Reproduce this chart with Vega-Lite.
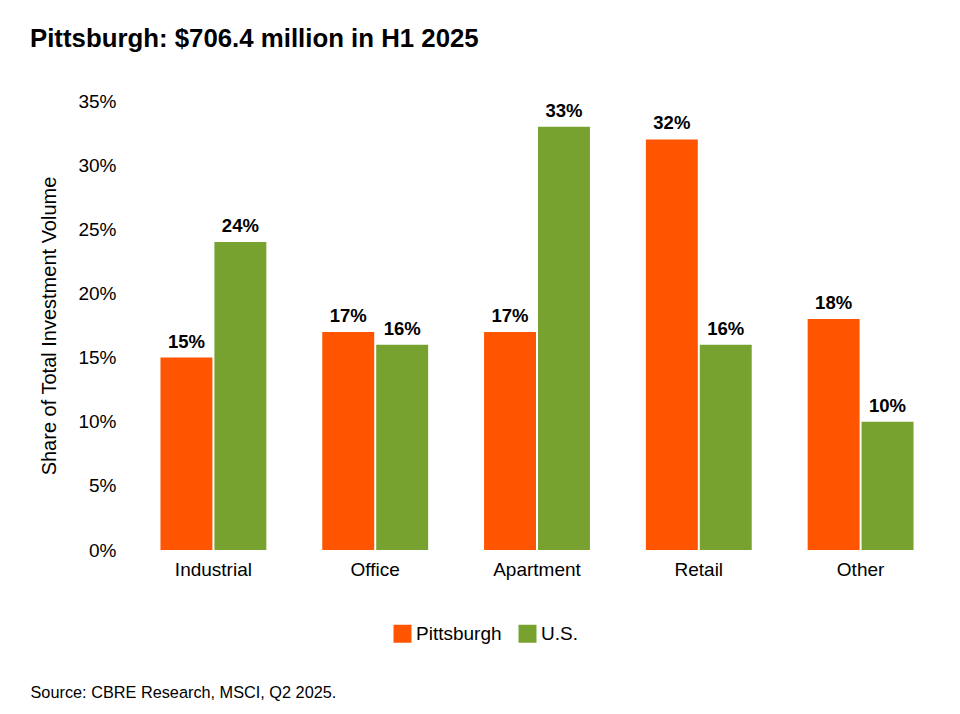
{
  "$schema": "https://vega.github.io/schema/vega-lite/v6.json",
  "autosize": {"type": "none"},
  "padding": {"left": 132, "top": 101, "right": 18, "bottom": 164},
  "width": 810,
  "height": 449,
  "background": "white",
  "config": {
    "font": "Liberation Sans",
    "view": {"stroke": null}
  },
  "title": {
    "text": "Pittsburgh: $706.4 million in H1 2025",
    "anchor": "start",
    "frame": "group",
    "dx": -102,
    "offset": 19,
    "baseline": "alphabetic",
    "fontSize": 25.8,
    "fontWeight": "bold",
    "color": "#000000"
  },
  "data": {
    "values": [
      {"type": "Industrial", "market": "Pittsburgh", "share": 0.15},
      {"type": "Industrial", "market": "U.S.", "share": 0.24},
      {"type": "Office", "market": "Pittsburgh", "share": 0.17},
      {"type": "Office", "market": "U.S.", "share": 0.16},
      {"type": "Apartment", "market": "Pittsburgh", "share": 0.17},
      {"type": "Apartment", "market": "U.S.", "share": 0.33},
      {"type": "Retail", "market": "Pittsburgh", "share": 0.32},
      {"type": "Retail", "market": "U.S.", "share": 0.16},
      {"type": "Other", "market": "Pittsburgh", "share": 0.18},
      {"type": "Other", "market": "U.S.", "share": 0.10}
    ]
  },
  "encoding": {
    "x": {
      "field": "type",
      "type": "nominal",
      "sort": ["Industrial", "Office", "Apartment", "Retail", "Other"],
      "scale": {"paddingInner": 0.3457, "paddingOuter": 0.176},
      "axis": {
        "title": "Source: CBRE Research, MSCI, Q2 2025.",
        "titleAnchor": "start",
        "titleAlign": "left",
        "titleX": -102,
        "titleY": 147,
        "titleBaseline": "alphabetic",
        "titleFontSize": 16.3,
        "titleFontWeight": "normal",
        "titleColor": "#000000",
        "labelAngle": 0,
        "labelFontSize": 19,
        "labelColor": "#000000",
        "labelPadding": 10,
        "domain": false,
        "ticks": false
      }
    },
    "xOffset": {
      "field": "market",
      "type": "nominal",
      "sort": ["Pittsburgh", "U.S."],
      "scale": {"paddingInner": 0.037, "paddingOuter": 0}
    },
    "y": {
      "field": "share",
      "type": "quantitative",
      "scale": {"domain": [0, 0.35]},
      "axis": {
        "title": "Share of Total Investment Volume",
        "titleFontSize": 20,
        "titleFontWeight": "normal",
        "titleColor": "#000000",
        "titlePadding": 18,
        "values": [0, 0.05, 0.1, 0.15, 0.2, 0.25, 0.3, 0.35],
        "format": ".0%",
        "labelFontSize": 19,
        "labelColor": "#000000",
        "labelPadding": 16,
        "grid": false,
        "domain": false,
        "ticks": false
      }
    }
  },
  "layer": [
    {
      "mark": {"type": "bar"},
      "encoding": {
        "color": {
          "field": "market",
          "type": "nominal",
          "sort": ["Pittsburgh", "U.S."],
          "scale": {"domain": ["Pittsburgh", "U.S."], "range": ["#FF5400", "#78A22F"]},
          "legend": {
            "title": null,
            "orient": "none",
            "direction": "horizontal",
            "legendX": 261,
            "legendY": 523,
            "symbolType": "square",
            "symbolSize": 324,
            "symbolStrokeWidth": 0,
            "symbolOpacity": 1,
            "labelFontSize": 19,
            "labelColor": "#000000",
            "labelOffset": 4,
            "columnPadding": 16,
            "padding": 0
          }
        }
      }
    },
    {
      "mark": {"type": "text", "baseline": "alphabetic", "dy": -10, "fontSize": 18.5, "fontWeight": "bold", "color": "#000000"},
      "encoding": {
        "text": {"field": "share", "type": "quantitative", "format": ".0%"},
        "detail": {"field": "market"}
      }
    }
  ]
}
